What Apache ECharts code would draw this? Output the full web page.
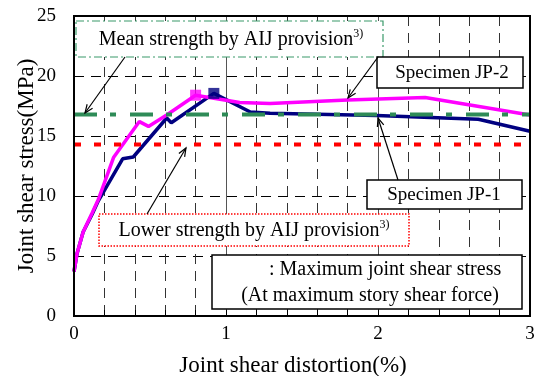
<!DOCTYPE html>
<html>
<head>
<meta charset="utf-8">
<script src="https://cdn.jsdelivr.net/npm/echarts@6/dist/echarts.min.js"></script>
<style>
html,body{margin:0;padding:0;background:#fff;}
#c{width:538px;height:376px;}
</style>
</head>
<body>
<div id="c"></div>
<script>
// ---- data ----
var jp2 = [[0,3.7],[0.02,5.2],[0.06,7.0],[0.12,8.6],[0.16,9.7],[0.26,13.2],[0.43,16.2],[0.49,15.8],[0.61,16.75],[0.80,18.4],[0.92,18.15],[1.09,17.8],[1.29,17.7],[1.80,18.0],[2.31,18.2],[3.0,16.75]];
var jp1 = [[0,3.7],[0.02,5.2],[0.06,7.0],[0.12,8.5],[0.16,9.6],[0.32,13.1],[0.39,13.25],[0.61,16.5],[0.64,16.1],[0.92,18.55],[1.16,17.0],[1.29,16.9],[1.99,16.7],[2.66,16.4],[3.0,15.4]];
var jp2Peak = [[0.80,18.4]];
var jp1Peak = [[0.92,18.55]];
var meanAIJ = 16.8;
var lowerAIJ = 14.3;
var xRange = [0, 3];
var yTicks = [0, 5, 10, 15, 20, 25];

var FONT = "'Liberation Serif','Times New Roman',serif";
var chart = echarts.init(document.getElementById('c'), null, {renderer:'canvas'});

function arrow(x1,y1,x2,y2){
  var ang = Math.atan2(y2-y1, x2-x1), L = 9, w = 0.38;
  return [
    {type:'line', z:100, shape:{x1:x1,y1:y1,x2:x2,y2:y2}, style:{stroke:'#000',lineWidth:1.2}},
    {type:'polyline', z:100, shape:{points:[[x2-L*Math.cos(ang-w), y2-L*Math.sin(ang-w)],[x2,y2],[x2-L*Math.cos(ang+w), y2-L*Math.sin(ang+w)]]}, style:{stroke:'#000',lineWidth:1.2,fill:null}}
  ];
}

var graphics = [
  {type:'rect', z:99, shape:{x:74,y:16,width:456,height:300}, style:{fill:null, stroke:'#000', lineWidth:2}},
  // mean strength box
  {type:'rect', z:100, shape:{x:76,y:21,width:307,height:36}, style:{fill:'#fff', stroke:'#3a9a6a', lineWidth:1.2, lineDash:[8,3,2,3]}},
  {type:'text', z:101, x:231, y:40, style:{text:'{a|Mean strength by AIJ provision}{s|3)}', align:'center', verticalAlign:'middle',
     rich:{a:{fontFamily:FONT,fontSize:20,fill:'#000',lineHeight:24}, s:{fontFamily:FONT,fontSize:12,fill:'#000',verticalAlign:'top',lineHeight:24}}}},
  // JP-2 box
  {type:'rect', z:100, shape:{x:377,y:57,width:146,height:31}, style:{fill:'#fff', stroke:'#000', lineWidth:1.5}},
  {type:'text', z:101, x:452, y:73, style:{text:'Specimen JP-2', align:'center', verticalAlign:'middle', fontFamily:FONT, fontSize:19, fill:'#000'}},
  // JP-1 box
  {type:'rect', z:100, shape:{x:367,y:180,width:155,height:29}, style:{fill:'#fff', stroke:'#000', lineWidth:1.5}},
  {type:'text', z:101, x:444, y:195, style:{text:'Specimen JP-1', align:'center', verticalAlign:'middle', fontFamily:FONT, fontSize:19, fill:'#000'}},
  // lower strength box
  {type:'rect', z:100, shape:{x:99,y:214,width:310,height:32}, style:{fill:'#fff', stroke:'#ff0000', lineWidth:1.5, lineDash:[1.5,1.5]}},
  {type:'text', z:101, x:254, y:231, style:{text:'{a|Lower strength by AIJ provision}{s|3)}', align:'center', verticalAlign:'middle',
     rich:{a:{fontFamily:FONT,fontSize:20,fill:'#000',lineHeight:24}, s:{fontFamily:FONT,fontSize:12,fill:'#000',verticalAlign:'top',lineHeight:24}}}},
  // max box
  {type:'rect', z:100, shape:{x:212,y:255,width:310,height:54}, style:{fill:'#fff', stroke:'#000', lineWidth:1.5}},
  {type:'text', z:101, x:269, y:270, style:{text:': Maximum joint shear stress', align:'left', verticalAlign:'middle', fontFamily:FONT, fontSize:20, fill:'#000'}},
  {type:'text', z:101, x:370, y:296, style:{text:'(At maximum story shear force)', align:'center', verticalAlign:'middle', fontFamily:FONT, fontSize:20, fill:'#000'}}
];
graphics = graphics.concat(arrow(125,57,85,113), arrow(378,57,348,98), arrow(398,180,378,118), arrow(147,214,186,148));

var option = {
  backgroundColor:'#fff',
  animation:false,
  grid:{left:74, right:8, top:16, bottom:60, show:false, containLabel:false, outerBoundsMode:'none'},
  xAxis:[{
    type:'value', min:xRange[0], max:xRange[1], interval:0.2,
    axisLine:{show:true, onZero:false, lineStyle:{color:'#000', width:2}},
    axisTick:{show:true, inside:true, length:6, lineStyle:{color:'#000'}},
    axisLabel:{show:false},
    splitLine:{show:true, lineStyle:{color:'#333', width:1, type:[10,7]}}
  },{
    type:'value', min:xRange[0], max:xRange[1], interval:1, position:'bottom',
    axisLine:{show:false}, axisTick:{show:false},
    axisLabel:{show:true, color:'#000', fontFamily:FONT, fontSize:19, margin:9},
    splitLine:{show:true, lineStyle:{color:'#555', width:1, type:'solid'}},
    name:'Joint shear distortion(%)', nameLocation:'middle', nameGap:38,
    nameTextStyle:{color:'#000', fontFamily:FONT, fontSize:23, padding:[0,18,0,0]}
  }],
  yAxis:{
    type:'value', min:yTicks[0], max:yTicks[yTicks.length-1], interval:5,
    axisLine:{show:true, lineStyle:{color:'#000', width:2}},
    axisTick:{show:false},
    axisLabel:{color:'#000', fontFamily:FONT, fontSize:19, margin:18},
    splitLine:{show:true, lineStyle:{color:'#000', width:1, type:[10,7]}},
    name:'Joint shear stress(MPa)', nameLocation:'middle', nameGap:36, nameRotate:90, nameMoveOverlap:false,
    nameTextStyle:{color:'#000', fontFamily:FONT, fontSize:23}
  },
  series:[
    {type:'line', data:jp1, showSymbol:false, z:3, lineStyle:{color:'#000080', width:3.5}, itemStyle:{color:'#000080'}},
    {type:'line', data:jp2, showSymbol:false, z:4, lineStyle:{color:'#ff00ff', width:3.5}, itemStyle:{color:'#ff00ff'}},
    {type:'line', data:[[xRange[0],lowerAIJ],[xRange[1],lowerAIJ]], showSymbol:false, z:5, lineStyle:{color:'#ff0000', width:4, type:[7,13]}},
    {type:'line', data:[[xRange[0],meanAIJ],[xRange[1],meanAIJ]], showSymbol:false, z:6, lineStyle:{color:'#2e8b57', width:4, type:[23,13,6,14]}},
    {type:'scatter', data:jp2Peak, symbol:'rect', symbolSize:11, z:7, itemStyle:{color:'#ff00ff'}},
    {type:'scatter', data:jp1Peak, symbol:'rect', symbolSize:11, z:7, itemStyle:{color:'#000080'}}
  ],
  graphic:graphics
};
chart.setOption(option);
</script>
</body>
</html>
